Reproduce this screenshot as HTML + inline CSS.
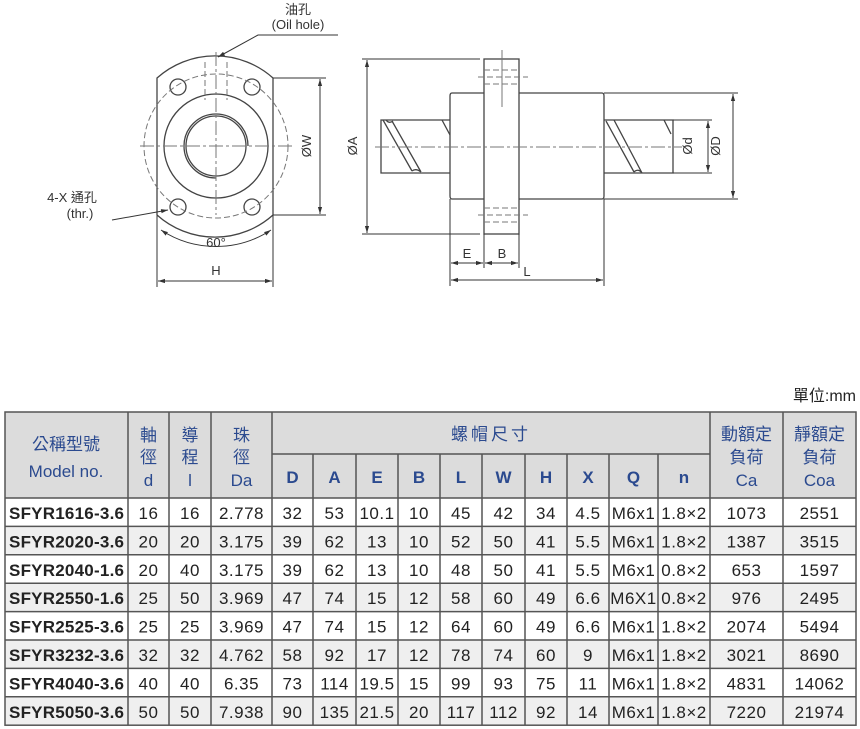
<!DOCTYPE html>
<html><head><meta charset="utf-8"><style>
html,body{margin:0;padding:0;background:#fff;}
svg{display:block;}
.d{font-family:"Liberation Sans",sans-serif;font-size:17px;fill:#222;text-anchor:middle;letter-spacing:0.5px;}
.m{font-family:"Liberation Sans",sans-serif;font-size:17px;fill:#222;font-weight:bold;}
.h{font-family:"Liberation Sans","Noto Sans CJK TC",sans-serif;font-size:17px;fill:#2b4a8f;text-anchor:middle;}
.l{font-family:"Liberation Sans","Noto Sans CJK TC",sans-serif;font-size:13px;fill:#333;text-anchor:middle;}
</style></head><body>
<svg width="860" height="729" viewBox="0 0 860 729" xmlns="http://www.w3.org/2000/svg">
<defs>
<marker id="a" viewBox="0 0 10 10" refX="10" refY="5" markerWidth="7" markerHeight="7" orient="auto-start-reverse"><path d="M0,2 L10,5 L0,8 z" fill="#333"/></marker>
</defs>
<!-- FRONT VIEW -->
<g stroke="#444" stroke-width="1.3" fill="none">
<path d="M157,215 L157,78 A87,87 0 0 1 273,78 L273,215 A87,87 0 0 1 157,215"/>
<circle cx="216" cy="146" r="52"/>
<circle cx="216" cy="146" r="30"/>
<path d="M216,178 A32,32 0 1 1 248,146" />
<circle cx="178" cy="87" r="8"/><circle cx="252" cy="87" r="8"/>
<circle cx="178" cy="207" r="8"/><circle cx="252" cy="207" r="8"/>
</g>
<g stroke="#777" stroke-width="1" fill="none" stroke-dasharray="6,3">
<circle cx="216" cy="146" r="72"/>
<line x1="140" y1="146" x2="295" y2="146" stroke-dasharray="14,3,3,3"/>
<line x1="216" y1="52" x2="216" y2="215" stroke-dasharray="14,3,3,3"/>
<line x1="205" y1="62" x2="205" y2="100"/><line x1="227" y1="62" x2="227" y2="100"/>
</g>
<g stroke="#333" stroke-width="1" fill="none">
<line x1="273" y1="78" x2="326" y2="78"/><line x1="273" y1="215" x2="326" y2="215"/>
<line x1="320" y1="79" x2="320" y2="214" marker-start="url(#a)" marker-end="url(#a)"/>
<line x1="157" y1="215" x2="157" y2="287"/><line x1="273" y1="215" x2="273" y2="287"/>
<line x1="158" y1="281" x2="272" y2="281" marker-start="url(#a)" marker-end="url(#a)"/>
<path d="M161,230 A100,100 0 0 0 271,230" marker-start="url(#a)" marker-end="url(#a)"/>
<polyline points="338,35 258,35 218,57" marker-end="url(#a)"/>
<line x1="112" y1="220" x2="168" y2="210" marker-end="url(#a)"/>
</g>
<text class="l" x="298" y="14">油孔</text>
<text class="l" x="298" y="29">(Oil hole)</text>
<text class="l" x="72" y="202">4-X 通孔</text>
<text class="l" x="80" y="218">(thr.)</text>
<text class="l" x="216" y="247" font-size="15">60°</text>
<text class="l" x="216" y="275" font-size="15">H</text>
<text class="l" x="0" y="0" font-size="15" transform="translate(311,146) rotate(-90)">ØW</text>
<!-- SIDE VIEW -->
<g stroke="#444" stroke-width="1.3" fill="none">
<rect x="484" y="59" width="35" height="175"/>
<path d="M484,93 L452,93 Q450,93 450,96 L450,196 Q450,199 452,199 L484,199"/>
<path d="M519,93 L602,93 Q604,93 604,96 L604,196 Q604,199 602,199 L519,199"/>
<path d="M450,120 L381,120 L381,173 L450,173"/>
<path d="M604,120 L673,120 L673,173 L604,173"/>
<path d="M383,120 L412,171 M392,121 L421,172 M442,120 L450,135 M386,120 Q389,124 393,121 M412,171 Q416,168 421,172"/>
<path d="M606,121 L634,172 M614,120 L642,173 M664,120 L671,134 M634,172 Q638,168 642,173"/>
</g>
<g stroke="#777" stroke-width="1" fill="none">
<line x1="375" y1="147" x2="682" y2="147" stroke-dasharray="14,3,3,3"/>
<line x1="502" y1="50" x2="502" y2="107"/>
<line x1="478" y1="77" x2="528" y2="77" stroke-dasharray="6,3"/>
<line x1="484" y1="70" x2="519" y2="70" stroke-dasharray="6,3"/>
<line x1="484" y1="84" x2="519" y2="84" stroke-dasharray="6,3"/>
<line x1="478" y1="215" x2="528" y2="215" stroke-dasharray="6,3"/>
<line x1="484" y1="208" x2="519" y2="208" stroke-dasharray="6,3"/>
<line x1="484" y1="222" x2="519" y2="222" stroke-dasharray="6,3"/>
</g>
<g stroke="#333" stroke-width="1" fill="none">
<line x1="362" y1="59" x2="480" y2="59"/><line x1="362" y1="234" x2="480" y2="234"/>
<line x1="367" y1="60" x2="367" y2="233" marker-start="url(#a)" marker-end="url(#a)"/>
<line x1="604" y1="93" x2="738" y2="93"/><line x1="604" y1="199" x2="738" y2="199"/>
<line x1="733" y1="94" x2="733" y2="198" marker-start="url(#a)" marker-end="url(#a)"/>
<line x1="673" y1="120" x2="712" y2="120"/><line x1="673" y1="173" x2="712" y2="173"/>
<line x1="708" y1="121" x2="708" y2="172" marker-start="url(#a)" marker-end="url(#a)"/>
<line x1="450" y1="199" x2="450" y2="286"/><line x1="604" y1="199" x2="604" y2="286"/>
<line x1="484" y1="234" x2="484" y2="268"/><line x1="519" y1="234" x2="519" y2="268"/>
<line x1="451" y1="263" x2="483" y2="263" marker-start="url(#a)" marker-end="url(#a)"/>
<line x1="485" y1="263" x2="518" y2="263" marker-start="url(#a)" marker-end="url(#a)"/>
<line x1="451" y1="280" x2="603" y2="280" marker-start="url(#a)" marker-end="url(#a)"/>
</g>
<text class="l" x="467" y="258" font-size="16">E</text>
<text class="l" x="502" y="258" font-size="16">B</text>
<text class="l" x="527" y="276" font-size="16">L</text>
<text class="l" x="0" y="0" font-size="16" transform="translate(357,146) rotate(-90)">ØA</text>
<text class="l" x="0" y="0" font-size="16" transform="translate(692,146) rotate(-90)">Ød</text>
<text class="l" x="0" y="0" font-size="16" transform="translate(720,146) rotate(-90)">ØD</text>
<!-- TABLE -->
<text x="856" y="401" font-family="'Liberation Sans','Noto Sans CJK TC',sans-serif" font-size="16" fill="#222" text-anchor="end">單位:mm</text>
<rect x="5" y="412" width="851" height="86" fill="#dcdcdc"/>
<rect x="5" y="526.4" width="851" height="28.4" fill="#efefef"/>
<rect x="5" y="583.2" width="851" height="28.4" fill="#efefef"/>
<rect x="5" y="640" width="851" height="28.4" fill="#efefef"/>
<rect x="5" y="696.8" width="851" height="28.4" fill="#efefef"/>
<g stroke="#555" stroke-width="1.5" fill="none">
<rect x="5" y="412" width="851" height="313.2"/>
<line x1="272" y1="454" x2="710" y2="454"/>
<line x1="5" y1="498" x2="856" y2="498"/>
<line x1="5" y1="526.4" x2="856" y2="526.4"/><line x1="5" y1="554.8" x2="856" y2="554.8"/>
<line x1="5" y1="583.2" x2="856" y2="583.2"/><line x1="5" y1="611.6" x2="856" y2="611.6"/>
<line x1="5" y1="640" x2="856" y2="640"/><line x1="5" y1="668.4" x2="856" y2="668.4"/>
<line x1="5" y1="696.8" x2="856" y2="696.8"/>
<line x1="128" y1="412" x2="128" y2="725"/><line x1="169" y1="412" x2="169" y2="725"/>
<line x1="211" y1="412" x2="211" y2="725"/><line x1="272" y1="412" x2="272" y2="725"/>
<line x1="710" y1="412" x2="710" y2="725"/><line x1="783" y1="412" x2="783" y2="725"/>
<line x1="313" y1="454" x2="313" y2="725"/><line x1="356" y1="454" x2="356" y2="725"/>
<line x1="398" y1="454" x2="398" y2="725"/><line x1="440" y1="454" x2="440" y2="725"/>
<line x1="482" y1="454" x2="482" y2="725"/><line x1="525" y1="454" x2="525" y2="725"/>
<line x1="567" y1="454" x2="567" y2="725"/><line x1="609" y1="454" x2="609" y2="725"/>
<line x1="658" y1="454" x2="658" y2="725"/>
</g>
<text class="h" x="66" y="450">公稱型號</text>
<text class="h" x="66" y="477">Model no.</text>
<text class="h" x="148.5" y="441">軸</text><text class="h" x="148.5" y="463">徑</text><text class="h" x="148.5" y="486">d</text>
<text class="h" x="190" y="441">導</text><text class="h" x="190" y="463">程</text><text class="h" x="190" y="486">l</text>
<text class="h" x="241.5" y="441">珠</text><text class="h" x="241.5" y="463">徑</text><text class="h" x="241.5" y="486">Da</text>
<text class="h" x="491" y="440" letter-spacing="3">螺帽尺寸</text>
<g class="h" font-weight="bold">
<text class="h" x="292.5" y="483">D</text><text class="h" x="334.5" y="483">A</text><text class="h" x="377" y="483">E</text>
<text class="h" x="419" y="483">B</text><text class="h" x="461" y="483">L</text><text class="h" x="503.5" y="483">W</text>
<text class="h" x="546" y="483">H</text><text class="h" x="588" y="483">X</text><text class="h" x="633.5" y="483">Q</text>
<text class="h" x="684" y="483">n</text>
</g>
<text class="h" x="746.5" y="440">動額定</text><text class="h" x="746.5" y="463">負荷</text><text class="h" x="746.5" y="486">Ca</text>
<text class="h" x="819.5" y="440">靜額定</text><text class="h" x="819.5" y="463">負荷</text><text class="h" x="819.5" y="486">Coa</text>

<g>
<text class="m" x="9" y="519" textLength="115">SFYR1616-3.6</text>
<text class="d" x="148.5" y="519">16</text><text class="d" x="190" y="519">16</text><text class="d" x="241.5" y="519">2.778</text>
<text class="d" x="292.5" y="519">32</text><text class="d" x="334.5" y="519">53</text><text class="d" x="377" y="519">10.1</text>
<text class="d" x="419" y="519">10</text><text class="d" x="461" y="519">45</text><text class="d" x="503.5" y="519">42</text>
<text class="d" x="546" y="519">34</text><text class="d" x="588" y="519">4.5</text><text class="d" x="633.5" y="519">M6x1</text>
<text class="d" x="684" y="519">1.8×2</text><text class="d" x="746.5" y="519">1073</text><text class="d" x="819.5" y="519">2551</text>
</g>
<g>
<text class="m" x="9" y="547.4" textLength="115">SFYR2020-3.6</text>
<text class="d" x="148.5" y="547.4">20</text><text class="d" x="190" y="547.4">20</text><text class="d" x="241.5" y="547.4">3.175</text>
<text class="d" x="292.5" y="547.4">39</text><text class="d" x="334.5" y="547.4">62</text><text class="d" x="377" y="547.4">13</text>
<text class="d" x="419" y="547.4">10</text><text class="d" x="461" y="547.4">52</text><text class="d" x="503.5" y="547.4">50</text>
<text class="d" x="546" y="547.4">41</text><text class="d" x="588" y="547.4">5.5</text><text class="d" x="633.5" y="547.4">M6x1</text>
<text class="d" x="684" y="547.4">1.8×2</text><text class="d" x="746.5" y="547.4">1387</text><text class="d" x="819.5" y="547.4">3515</text>
</g>
<g>
<text class="m" x="9" y="575.8" textLength="115">SFYR2040-1.6</text>
<text class="d" x="148.5" y="575.8">20</text><text class="d" x="190" y="575.8">40</text><text class="d" x="241.5" y="575.8">3.175</text>
<text class="d" x="292.5" y="575.8">39</text><text class="d" x="334.5" y="575.8">62</text><text class="d" x="377" y="575.8">13</text>
<text class="d" x="419" y="575.8">10</text><text class="d" x="461" y="575.8">48</text><text class="d" x="503.5" y="575.8">50</text>
<text class="d" x="546" y="575.8">41</text><text class="d" x="588" y="575.8">5.5</text><text class="d" x="633.5" y="575.8">M6x1</text>
<text class="d" x="684" y="575.8">0.8×2</text><text class="d" x="746.5" y="575.8">653</text><text class="d" x="819.5" y="575.8">1597</text>
</g>
<g>
<text class="m" x="9" y="604.2" textLength="115">SFYR2550-1.6</text>
<text class="d" x="148.5" y="604.2">25</text><text class="d" x="190" y="604.2">50</text><text class="d" x="241.5" y="604.2">3.969</text>
<text class="d" x="292.5" y="604.2">47</text><text class="d" x="334.5" y="604.2">74</text><text class="d" x="377" y="604.2">15</text>
<text class="d" x="419" y="604.2">12</text><text class="d" x="461" y="604.2">58</text><text class="d" x="503.5" y="604.2">60</text>
<text class="d" x="546" y="604.2">49</text><text class="d" x="588" y="604.2">6.6</text><text class="d" x="633.5" y="604.2">M6X1</text>
<text class="d" x="684" y="604.2">0.8×2</text><text class="d" x="746.5" y="604.2">976</text><text class="d" x="819.5" y="604.2">2495</text>
</g>
<g>
<text class="m" x="9" y="632.6" textLength="115">SFYR2525-3.6</text>
<text class="d" x="148.5" y="632.6">25</text><text class="d" x="190" y="632.6">25</text><text class="d" x="241.5" y="632.6">3.969</text>
<text class="d" x="292.5" y="632.6">47</text><text class="d" x="334.5" y="632.6">74</text><text class="d" x="377" y="632.6">15</text>
<text class="d" x="419" y="632.6">12</text><text class="d" x="461" y="632.6">64</text><text class="d" x="503.5" y="632.6">60</text>
<text class="d" x="546" y="632.6">49</text><text class="d" x="588" y="632.6">6.6</text><text class="d" x="633.5" y="632.6">M6x1</text>
<text class="d" x="684" y="632.6">1.8×2</text><text class="d" x="746.5" y="632.6">2074</text><text class="d" x="819.5" y="632.6">5494</text>
</g>
<g>
<text class="m" x="9" y="661" textLength="115">SFYR3232-3.6</text>
<text class="d" x="148.5" y="661">32</text><text class="d" x="190" y="661">32</text><text class="d" x="241.5" y="661">4.762</text>
<text class="d" x="292.5" y="661">58</text><text class="d" x="334.5" y="661">92</text><text class="d" x="377" y="661">17</text>
<text class="d" x="419" y="661">12</text><text class="d" x="461" y="661">78</text><text class="d" x="503.5" y="661">74</text>
<text class="d" x="546" y="661">60</text><text class="d" x="588" y="661">9</text><text class="d" x="633.5" y="661">M6x1</text>
<text class="d" x="684" y="661">1.8×2</text><text class="d" x="746.5" y="661">3021</text><text class="d" x="819.5" y="661">8690</text>
</g>
<g>
<text class="m" x="9" y="689.4" textLength="115">SFYR4040-3.6</text>
<text class="d" x="148.5" y="689.4">40</text><text class="d" x="190" y="689.4">40</text><text class="d" x="241.5" y="689.4">6.35</text>
<text class="d" x="292.5" y="689.4">73</text><text class="d" x="334.5" y="689.4">114</text><text class="d" x="377" y="689.4">19.5</text>
<text class="d" x="419" y="689.4">15</text><text class="d" x="461" y="689.4">99</text><text class="d" x="503.5" y="689.4">93</text>
<text class="d" x="546" y="689.4">75</text><text class="d" x="588" y="689.4">11</text><text class="d" x="633.5" y="689.4">M6x1</text>
<text class="d" x="684" y="689.4">1.8×2</text><text class="d" x="746.5" y="689.4">4831</text><text class="d" x="819.5" y="689.4">14062</text>
</g>
<g>
<text class="m" x="9" y="717.8" textLength="115">SFYR5050-3.6</text>
<text class="d" x="148.5" y="717.8">50</text><text class="d" x="190" y="717.8">50</text><text class="d" x="241.5" y="717.8">7.938</text>
<text class="d" x="292.5" y="717.8">90</text><text class="d" x="334.5" y="717.8">135</text><text class="d" x="377" y="717.8">21.5</text>
<text class="d" x="419" y="717.8">20</text><text class="d" x="461" y="717.8">117</text><text class="d" x="503.5" y="717.8">112</text>
<text class="d" x="546" y="717.8">92</text><text class="d" x="588" y="717.8">14</text><text class="d" x="633.5" y="717.8">M6x1</text>
<text class="d" x="684" y="717.8">1.8×2</text><text class="d" x="746.5" y="717.8">7220</text><text class="d" x="819.5" y="717.8">21974</text>
</g>
</svg>
</body></html>
